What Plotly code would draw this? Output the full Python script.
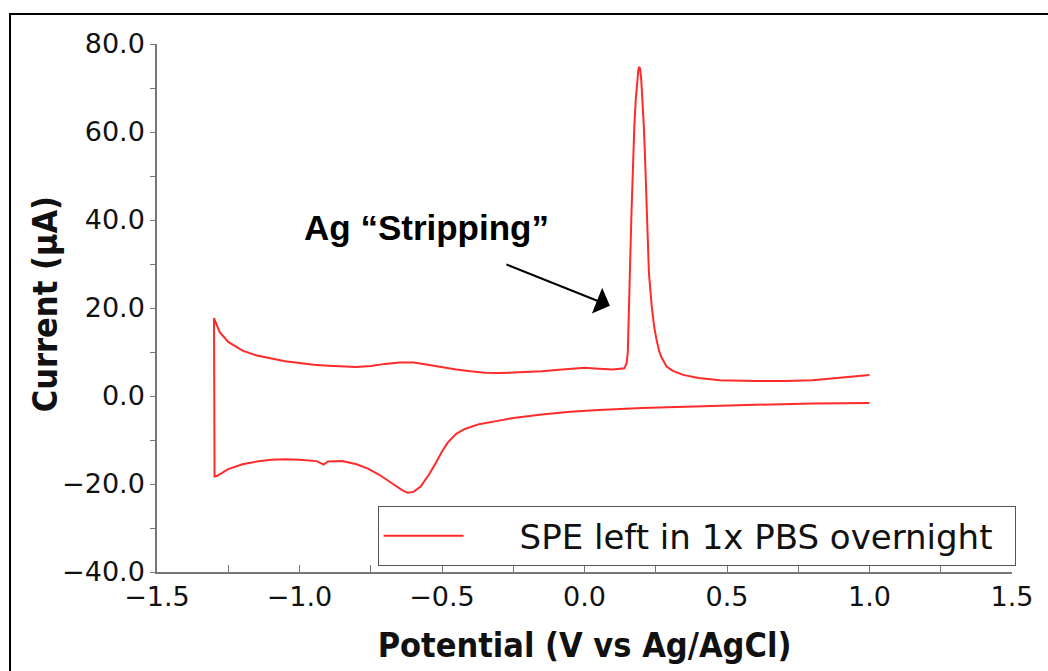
import plotly.graph_objects as go

# Cyclic voltammogram: anodic sweep (-1.3 V -> 1.0 V)
potential_fwd = [-1.300, -1.280, -1.250, -1.200, -1.150, -1.100, -1.050, -1.000,
                 -0.950, -0.900, -0.850, -0.800, -0.750, -0.700, -0.650, -0.600,
                 -0.550, -0.500, -0.450, -0.400, -0.350, -0.300, -0.250, -0.200,
                 -0.150, -0.100, -0.050, 0.000, 0.050, 0.100, 0.140, 0.148,
                 0.152, 0.156, 0.160, 0.165, 0.170, 0.175, 0.180, 0.185,
                 0.189, 0.192, 0.195, 0.199, 0.204, 0.208, 0.212, 0.216,
                 0.220, 0.226, 0.236, 0.245, 0.253, 0.262, 0.270, 0.288,
                 0.310, 0.346, 0.400, 0.475, 0.600, 0.700, 0.800, 0.900,
                 1.000]
current_fwd = [17.7, 14.5, 12.3, 10.3, 9.2, 8.5, 7.9, 7.5,
               7.1, 6.9, 6.7, 6.6, 6.8, 7.3, 7.6, 7.6,
               7.1, 6.5, 6.0, 5.6, 5.3, 5.2, 5.3, 5.4,
               5.6, 5.9, 6.2, 6.4, 6.2, 6.0, 6.3, 7.5,
               10.0, 18.0, 30.0, 42.0, 54.0, 61.5, 67.5, 72.0,
               74.2, 74.8, 74.3, 72.0, 67.3, 61.5, 55.0, 46.0,
               37.0, 28.0, 20.3, 15.5, 12.7, 10.2, 8.8, 6.7,
               5.7, 4.8, 4.1, 3.6, 3.4, 3.4, 3.6, 4.2,
               4.8]

# Cathodic sweep (1.0 V -> -1.3 V)
potential_rev = [1.000, 0.800, 0.600, 0.400, 0.200, 0.050, -0.050, -0.150,
                 -0.250, -0.300, -0.370, -0.420, -0.450, -0.480, -0.500, -0.520,
                 -0.545, -0.575, -0.600, -0.620, -0.640, -0.660, -0.690, -0.720,
                 -0.760, -0.800, -0.850, -0.900, -0.915, -0.925, -0.940, -1.000,
                 -1.050, -1.100, -1.150, -1.200, -1.250, -1.290, -1.298]
current_rev = [-1.6, -1.7, -2.0, -2.3, -2.7, -3.2, -3.6, -4.2,
               -5.0, -5.6, -6.4, -7.5, -8.6, -10.6, -12.6, -15.0,
               -17.8, -20.6, -21.8, -22.0, -21.4, -20.5, -19.2, -17.9,
               -16.5, -15.5, -14.8, -14.9, -15.6, -15.3, -14.8, -14.5,
               -14.4, -14.5, -14.9, -15.5, -16.6, -18.2, -18.3]

series_name = "SPE left in 1x PBS overnight"
peak_label = "Ag \u201cStripping\u201d"
x_title = "Potential (V vs Ag/AgCl)"
y_title = "Current (\u03bcA)"
arrow_tip = (0.089, 20.5)
label_pos = (-0.556, 38.2)

# The two sweeps are not joined at the switching potential (1.0 V);
# the loop closes at -1.3 V where the cathodic sweep returns to the start.
x_all = potential_fwd + [None] + potential_rev + potential_fwd[:1]
y_all = current_fwd + [None] + current_rev + current_fwd[:1]

fig = go.Figure()
fig.add_trace(go.Scatter(
    x=x_all, y=y_all, mode="lines",
    name="\u2003\u2002" + series_name + "\u2002",
    line=dict(color="#ff2a2a", width=2), connectgaps=False,
))

tick_font = dict(family="DejaVu Sans", size=27, color="#111111")
title_font = dict(family="DejaVu Sans Condensed, DejaVu Sans", size=34, color="#111111")
axis_grey = "#777777"

fig.update_layout(
    width=1048, height=671,
    margin=dict(l=157, r=36, t=44, b=99),
    paper_bgcolor="white", plot_bgcolor="white",
    showlegend=True,
    legend=dict(
        x=0.258, y=0.068, xanchor="left", yanchor="middle",
        bordercolor="#555555", borderwidth=1, bgcolor="white",
        font=dict(family="DejaVu Sans", size=34, color="#111111"),
        itemwidth=80,
    ),
    xaxis=dict(
        range=[-1.5, 1.5], tickvals=[-1.5, -1.0, -0.5, 0.0, 0.5, 1.0, 1.5],
        tickformat=".1f", ticks="inside", ticklen=7, tickcolor=axis_grey,
        tickwidth=1, showline=True, linecolor=axis_grey, linewidth=1.5,
        showgrid=False, zeroline=False, tickfont=tick_font,
        minor=dict(dtick=0.25, ticks="inside", ticklen=7, tickcolor=axis_grey),
        title=dict(text="<b>" + x_title + "</b>", font=title_font, standoff=22),
    ),
    yaxis=dict(
        range=[-40, 80], tickvals=[-40, -20, 0, 20, 40, 60, 80],
        tickformat=".1f", ticks="outside", ticklen=5, tickcolor=axis_grey,
        tickwidth=1, showline=True, linecolor=axis_grey, linewidth=1.5,
        showgrid=False, zeroline=False, tickfont=tick_font,
        minor=dict(dtick=10, ticks="outside", ticklen=5, tickcolor=axis_grey),
    ),
)

# Vertical axis title, placed close to the tick labels
fig.add_annotation(
    x=-0.131, y=0.507, xref="paper", yref="paper",
    text="<b>" + y_title + "</b>", textangle=-90, showarrow=False,
    xanchor="center", yanchor="middle", font=title_font,
)

# Peak label with arrow
fig.add_annotation(
    x=label_pos[0], y=label_pos[1], xref="x", yref="y",
    text="<b>" + peak_label + "</b>", showarrow=False,
    font=dict(family="Liberation Sans", size=35, color="black"),
)
fig.add_annotation(
    x=arrow_tip[0], y=arrow_tip[1], xref="x", yref="y",
    ax=-105, ay=-42, text="", showarrow=True,
    arrowhead=1, arrowsize=2.3, arrowwidth=2, arrowcolor="black", standoff=0,
)

# Outer frame around the figure
fig.add_shape(
    type="rect", xref="paper", yref="paper",
    x0=-0.1719, y0=-0.3, x1=1.2, y1=1.0568,
    line=dict(color="black", width=2), fillcolor="rgba(0,0,0,0)", layer="below",
)

fig.write_html("out.html")
